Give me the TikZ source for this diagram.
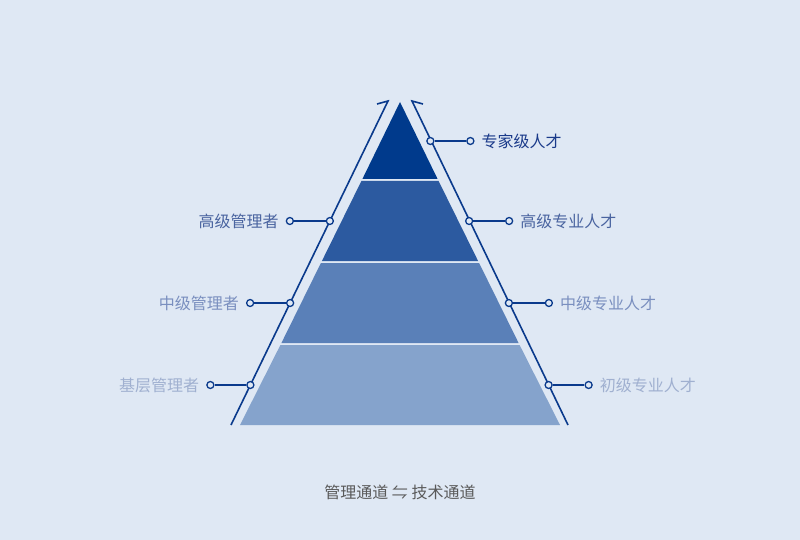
\documentclass[tikz,border=0pt]{standalone}
\usepackage{fontspec}
\newfontfamily\cjk{Noto Sans CJK SC}
\definecolor{bg}{HTML}{DFE8F4}
\definecolor{lineblue}{HTML}{0A3A8C}
\definecolor{layerA}{HTML}{003A8C}
\definecolor{layerB}{HTML}{2C5AA0}
\definecolor{layerC}{HTML}{5A80B8}
\definecolor{layerD}{HTML}{85A3CC}
\definecolor{txtA}{HTML}{1A3A8A}
\definecolor{txtB}{HTML}{4A64A0}
\definecolor{txtC}{HTML}{7A8FBF}
\definecolor{txtD}{HTML}{A0B0D0}
\tikzset{
  lbl/.style={font=\cjk\fontsize{16}{16}\selectfont,inner sep=0pt},
  pin/.style={circle,draw=lineblue,fill=bg,line width=1.3pt,inner sep=0pt,minimum size=7pt},
  side/.style={draw=lineblue,line width=1.6pt},
}
\begin{document}
\begin{tikzpicture}[x=1pt,y=-1pt]
        \fill[bg] (0,0) rectangle (800,540);
        \useasboundingbox (0,0) rectangle (800,540);

        % layers
        \fill[layerD] (240,425) -- (560,425) -- (519.6,345) -- (280.4,345) -- cycle;
        \fill[layerC] (281.4,343) -- (518.6,343) -- (479.1,263) -- (320.9,263) -- cycle;
        \fill[layerB] (321.9,261) -- (478.1,261) -- (438.6,181) -- (361.4,181) -- cycle;
        \fill[layerA] (362.4,179) -- (437.6,179) -- (400,102) -- cycle;

        % side lines
        \coordinate (lb) at (231,425);
        \coordinate (lt) at (388,101);
        \coordinate (rb) at (568,425);
        \coordinate (rt) at (412,101);
        \draw[side] (lb) -- (lt) -- (377,104);
        \draw[side] (rb) -- (rt) -- (423,104);

        % right labels
        \foreach \y/\t/\c [count=\i] in {141/专家级人才/txtA,221/高级专业人才/txtB,303/中级专业人才/txtC,385/初级专业人才/txtD}{
          \pgfmathsetmacro\xa{568-0.4846*(425-\y)}
          \node[pin] (ri\i) at (\xa,\y) {};
          \node[pin] (ro\i) at (\xa+40,\y) {};
          \draw[side,line width=1.3pt] (ri\i) -- (ro\i);
          \node[lbl,text=\c,anchor=west] at ([xshift=11pt]ro\i.center) {\t};
        }
        % left labels
        \foreach \y/\t/\c [count=\i] in {221/高级管理者/txtB,303/中级管理者/txtC,385/基层管理者/txtD}{
          \pgfmathsetmacro\xa{231+0.4846*(425-\y)}
          \node[pin] (li\i) at (\xa,\y) {};
          \node[pin] (lo\i) at (\xa-40,\y) {};
          \draw[side,line width=1.3pt] (li\i) -- (lo\i);
          \node[lbl,text=\c,anchor=east] at ([xshift=-11pt]lo\i.center) {\t};
        }

        \node[lbl,text=black!65] (path) at (400,492) {管理通道 ⇋ 技术通道};
\end{tikzpicture}
\end{document}
